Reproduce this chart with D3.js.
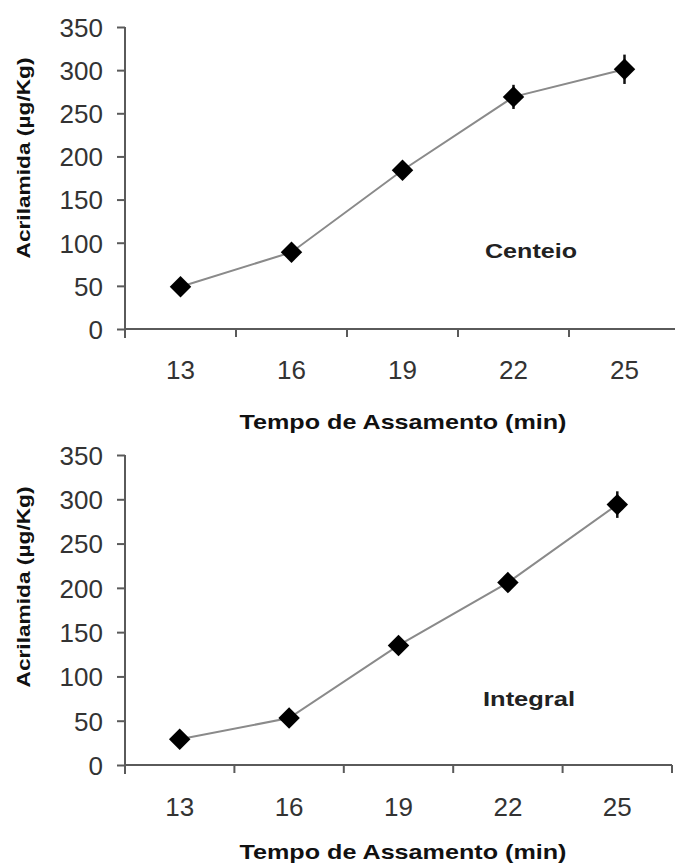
<!DOCTYPE html>
<html>
<head>
<meta charset="utf-8">
<script src="https://cdn.jsdelivr.net/npm/d3@7"></script>
<style>
  html, body { margin: 0; padding: 0; background: #fff; }
  svg { display: block; }
  text { font-family: "Liberation Sans", Arial, sans-serif; }
</style>
</head>
<body>
<div id="chart"></div>
<script>
// ---- Data ----
const categories = ["13", "16", "19", "22", "25"];
const yTicks = [0, 50, 100, 150, 200, 250, 300, 350];
const centeioValues = [49, 89, 184, 269, 301];
const centeioErrors = [3, 4, 5, 14, 17];
const integralValues = [29, 53, 135, 206, 294];
const integralErrors = [3, 4, 5, 5, 15];
const panelLabels = ["Centeio", "Integral"];
const xTitle = "Tempo de Assamento (min)";
const yTitle = "Acrilamida (µg/Kg)";

const W = 675, H = 865;
const svg = d3.select("#chart").append("svg").attr("width", W).attr("height", H);

const panels = [
  { values: centeioValues, errors: centeioErrors, label: panelLabels[0],
    x0: 125, x1: 680, yTop: 27, yBottom: 329, labelX: 531, labelY: 258, tickLabelY: 379, titleY: 429, yTitleY: 158 },
  { values: integralValues, errors: integralErrors, label: panelLabels[1],
    x0: 125, x1: 672, yTop: 455, yBottom: 765, labelX: 529, labelY: 706, tickLabelY: 816, titleY: 859, yTitleY: 587 }
];

const axisColor = "#5a5a5a";
const textColor = "#333";
const tickFont = 26;

panels.forEach(p => {
  const g = svg.append("g");
  const x = d3.scaleBand().domain(categories).range([p.x0, p.x1]);
  const y = d3.scaleLinear().domain([0, 350]).range([p.yBottom, p.yTop]);

  // Y axis
  const yAxis = g.append("g").attr("transform", `translate(${p.x0},0)`)
    .call(d3.axisLeft(y).tickValues(yTicks).tickSize(8).tickPadding(14));
  yAxis.select(".domain").attr("stroke", axisColor).attr("stroke-width", 2)
    .attr("d", `M0,${p.yTop}V${p.yBottom + 9}`);
  yAxis.selectAll(".tick line").attr("stroke", axisColor).attr("stroke-width", 2);
  yAxis.selectAll(".tick text").attr("fill", textColor).attr("font-size", tickFont)
    .attr("font-family", "'Liberation Sans', Arial, sans-serif").attr("dy", "0.36em");

  // X axis (ticks between categories)
  const xAxisG = g.append("g").attr("transform", `translate(0,${p.yBottom})`);
  xAxisG.append("line").attr("x1", p.x0).attr("x2", p.x1).attr("y1", 0).attr("y2", 0)
    .attr("stroke", axisColor).attr("stroke-width", 2);
  const boundaries = categories.map(c => x(c) + x.bandwidth());
  xAxisG.selectAll("line.tk").data(boundaries).enter().append("line").attr("class", "tk")
    .attr("x1", d => d).attr("x2", d => d).attr("y1", 0).attr("y2", 8)
    .attr("stroke", axisColor).attr("stroke-width", 2);
  g.selectAll("text.xl").data(categories).enter().append("text").attr("class", "xl")
    .attr("x", d => x(d) + x.bandwidth() / 2).attr("y", p.tickLabelY)
    .attr("text-anchor", "middle").attr("font-size", tickFont).attr("fill", textColor).text(d => d);

  // X title
  g.append("text").attr("x", 403).attr("y", p.titleY).attr("text-anchor", "middle")
    .attr("font-size", 21).attr("font-weight", "bold").attr("fill", "#111")
    .attr("textLength", 327).attr("lengthAdjust", "spacingAndGlyphs").text(xTitle);

  // Y title
  g.append("text").attr("transform", `translate(30,${p.yTitleY}) rotate(-90)`)
    .attr("text-anchor", "middle").attr("font-size", 18).attr("font-weight", "bold").attr("fill", "#111")
    .attr("textLength", 201).attr("lengthAdjust", "spacingAndGlyphs").text(yTitle);

  // Data
  const pts = categories.map((c, i) => ({ c, v: p.values[i], e: p.errors[i] }));
  const line = d3.line().x(d => x(d.c) + x.bandwidth() / 2).y(d => y(d.v));
  g.append("path").datum(pts).attr("d", line).attr("fill", "none")
    .attr("stroke", "#8a8a8a").attr("stroke-width", 2);

  // Error bars
  g.selectAll("line.err").data(pts).enter().append("line").attr("class", "err")
    .attr("x1", d => x(d.c) + x.bandwidth() / 2).attr("x2", d => x(d.c) + x.bandwidth() / 2)
    .attr("y1", d => y(d.v - d.e)).attr("y2", d => y(d.v + d.e))
    .attr("stroke", "#111").attr("stroke-width", 2.5);

  // Diamond markers
  const sym = d3.symbol().type(d3.symbolSquare).size(230);
  g.selectAll("path.mk").data(pts).enter().append("path").attr("class", "mk")
    .attr("d", sym)
    .attr("transform", d => `translate(${x(d.c) + x.bandwidth() / 2},${y(d.v)}) rotate(45)`)
    .attr("fill", "#000");

  // Panel label
  g.append("text").attr("x", p.labelX).attr("y", p.labelY).attr("text-anchor", "middle")
    .attr("font-size", 21).attr("font-weight", "bold").attr("fill", "#222")
    .attr("textLength", 92).attr("lengthAdjust", "spacingAndGlyphs").text(p.label);
});
</script>
</body>
</html>
